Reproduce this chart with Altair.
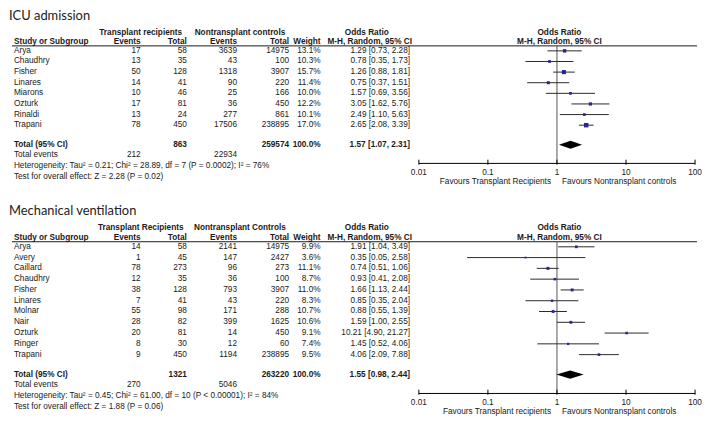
import altair as alt
import pandas as pd

# ---------------- data ----------------
icu_studies = ["Arya", "Chaudhry", "Fisher", "Linares", "Miarons", "Ozturk", "Rinaldi", "Trapani"]
icu_tr_events = [17, 13, 50, 14, 10, 17, 13, 78]
icu_tr_total = [58, 35, 128, 41, 46, 81, 24, 450]
icu_nt_events = [3639, 43, 1318, 90, 25, 36, 277, 17506]
icu_nt_total = [14975, 100, 3907, 220, 166, 450, 861, 238895]
icu_weight = [13.1, 10.3, 15.7, 11.4, 10.0, 12.2, 10.1, 17.0]
icu_or = [1.29, 0.78, 1.26, 0.75, 1.57, 3.05, 2.49, 2.65]
icu_lo = [0.73, 0.35, 0.88, 0.37, 0.69, 1.62, 1.10, 2.08]
icu_hi = [2.28, 1.73, 1.81, 1.51, 3.56, 5.76, 5.63, 3.39]
icu_totals = {"tr_total": 863, "nt_total": 259574, "weight": 100.0,
              "or": 1.57, "lo": 1.07, "hi": 2.31, "tr_events": 212, "nt_events": 22934}
icu_het = "Heterogeneity: Tau\u00b2 = 0.21; Chi\u00b2 = 28.89, df = 7 (P = 0.0002); I\u00b2 = 76%"
icu_test = "Test for overall effect: Z = 2.28 (P = 0.02)"

mv_studies = ["Arya", "Avery", "Caillard", "Chaudhry", "Fisher", "Linares", "Molnar", "Nair",
              "Ozturk", "Ringer", "Trapani"]
mv_tr_events = [14, 1, 78, 12, 38, 7, 55, 28, 20, 8, 9]
mv_tr_total = [58, 45, 273, 35, 128, 41, 98, 82, 81, 30, 450]
mv_nt_events = [2141, 147, 96, 36, 793, 43, 171, 399, 14, 12, 1194]
mv_nt_total = [14975, 2427, 273, 100, 3907, 220, 288, 1625, 450, 60, 238895]
mv_weight = [9.9, 3.6, 11.1, 8.7, 11.0, 8.3, 10.7, 10.6, 9.1, 7.4, 9.5]
mv_or = [1.91, 0.35, 0.74, 0.93, 1.66, 0.85, 0.88, 1.59, 10.21, 1.45, 4.06]
mv_lo = [1.04, 0.05, 0.51, 0.41, 1.13, 0.35, 0.55, 1.00, 4.90, 0.52, 2.09]
mv_hi = [3.49, 2.58, 1.06, 2.08, 2.44, 2.04, 1.39, 2.55, 21.27, 4.06, 7.88]
mv_totals = {"tr_total": 1321, "nt_total": 263220, "weight": 100.0,
             "or": 1.55, "lo": 0.98, "hi": 2.44, "tr_events": 270, "nt_events": 5046}
mv_het = "Heterogeneity: Tau\u00b2 = 0.45; Chi\u00b2 = 61.00, df = 10 (P < 0.00001); I\u00b2 = 84%"
mv_test = "Test for overall effect: Z = 1.88 (P = 0.06)"

tick_values = [0.01, 0.1, 1, 10, 100]
tick_labels = ["0.01", "0.1", "1", "10", "100"]

# ---------------- layout / style ----------------
FONT = "Arial, 'Liberation Sans', Helvetica, sans-serif"
FS = 8.3
TXT = "#1a1a1a"
W = 694


def X(xr):
    return (xr - 2) * 0.99


def make_panel(title, grp1, grp2, fav_left, fav_right, studies, tr_ev, tr_tot, nt_ev, nt_tot,
               weight, orv, lo, hi, tot, het, test, H, rmin, rmax):
    n = len(studies)
    r_tot = n - 1 + 1.85
    r_axis = n - 1 + 3.6
    ys = alt.Scale(domain=[rmin, rmax], range=[0, H], zero=False, nice=False)
    xs = alt.Scale(type="log", domain=[0.01, 100], range=[X(420), X(701)])

    def Yq(f):
        return alt.Y(f, scale=ys, axis=None)

    def Xq(f):
        return alt.X(f, scale=xs, axis=None)

    cols = {
        "study": (X(8), "left"),
        "tr_ev": (X(137), "right"),
        "tr_tot": (X(184), "right"),
        "nt_ev": (X(235), "right"),
        "nt_tot": (X(288), "right"),
        "w": (X(320), "right"),
        "or": (X(411), "right"),
        "h_grp1": (X(137), "center"),
        "h_grp2": (X(238), "center"),
        "h_or": (X(367), "center"),
        "h_mh": (X(370), "center"),
        "h_for": (X(563), "center"),
    }
    cells = []

    def add(col, r, t, bold=False):
        cells.append({"col": col, "r": r, "t": t, "b": bold})

    for i in range(n):
        add("study", i, studies[i])
        add("tr_ev", i, str(tr_ev[i]))
        add("tr_tot", i, str(tr_tot[i]))
        add("nt_ev", i, str(nt_ev[i]))
        add("nt_tot", i, str(nt_tot[i]))
        add("w", i, f"{weight[i]:.1f}%")
        add("or", i, f"{orv[i]:.2f} [{lo[i]:.2f}, {hi[i]:.2f}]")
    add("study", r_tot, "Total (95% CI)", True)
    add("tr_tot", r_tot, str(tot["tr_total"]), True)
    add("nt_tot", r_tot, str(tot["nt_total"]), True)
    add("w", r_tot, f"{tot['weight']:.1f}%", True)
    add("or", r_tot, f"{tot['or']:.2f} [{tot['lo']:.2f}, {tot['hi']:.2f}]", True)
    add("study", r_tot + 1, "Total events")
    add("tr_ev", r_tot + 1, str(tot["tr_events"]))
    add("nt_ev", r_tot + 1, str(tot["nt_events"]))
    add("study", r_tot + 2, het)
    add("study", r_tot + 3, test)
    # headers
    h1, h2 = -1.72, -0.8
    add("h_grp1", h1, grp1, True)
    add("h_grp2", h1, grp2, True)
    add("h_or", h1, "Odds Ratio", True)
    add("h_for", h1, "Odds Ratio", True)
    add("study", h2, "Study or Subgroup", True)
    add("tr_ev", h2, "Events", True)
    add("tr_tot", h2, "Total", True)
    add("nt_ev", h2, "Events", True)
    add("nt_tot", h2, "Total", True)
    add("w", h2, "Weight", True)
    add("h_mh", h2, "M-H, Random, 95% CI", True)
    add("h_for", h2, "M-H, Random, 95% CI", True)

    cdf = pd.DataFrame(cells)
    layers = []
    for (col, bold), g in cdf.groupby(["col", "b"]):
        px, align = cols[col]
        layers.append(
            alt.Chart(g[["r", "t"]]).mark_text(
                align=align, baseline="middle", font=FONT, fontSize=FS,
                fontWeight="bold" if bold else "normal", color=TXT
            ).encode(x=alt.value(px), y=Yq("r:Q"), text="t:N")
        )

    # title
    layers.append(
        alt.Chart(pd.DataFrame({"r": [-3.3], "t": [title]})).mark_text(
            align="left", baseline="middle", font="Lato", fontSize=13, color="#222222"
        ).encode(x=alt.value(1), y=Yq("r:Q"), text="t:N")
    )
    # header underline
    layers.append(
        alt.Chart(pd.DataFrame({"r": [-0.47]})).mark_rule(color=TXT, strokeWidth=1).encode(
            x=alt.value(X(6)), x2=alt.value(W), y=Yq("r:Q"))
    )
    # line of no effect
    layers.append(
        alt.Chart(pd.DataFrame({"x": [1], "y": [-0.47], "y2": [r_axis]})).mark_rule(
            color="#555555", strokeWidth=1).encode(x=Xq("x:Q"), y=Yq("y:Q"), y2="y2:Q")
    )
    rows = pd.DataFrame({"r": list(range(n)), "or": orv, "lo": lo, "hi": hi, "w": weight})
    layers.append(
        alt.Chart(rows).mark_rule(color="#2a2a2a", strokeWidth=1).encode(
            x=Xq("lo:Q"), x2="hi:Q", y=Yq("r:Q"))
    )
    layers.append(
        alt.Chart(rows).mark_square(color="#26269a", opacity=1).encode(
            x=Xq("or:Q"), y=Yq("r:Q"),
            size=alt.Size("w:Q", scale=alt.Scale(type="pow", exponent=2.5, domain=[0, 17],
                                                 range=[3, 20]), legend=None))
    )
    dia = pd.DataFrame({"x": [tot["lo"], tot["or"], tot["hi"]],
                        "y": [r_tot, r_tot - 0.38, r_tot],
                        "y2": [r_tot, r_tot + 0.38, r_tot]})
    layers.append(
        alt.Chart(dia).mark_area(color="black", orient="vertical").encode(
            x=Xq("x:Q"), y=Yq("y:Q"), y2="y2:Q")
    )
    # axis
    layers.append(
        alt.Chart(pd.DataFrame({"x": [tick_values[0]], "x2": [tick_values[-1]], "y": [r_axis]}))
        .mark_rule(color="black", strokeWidth=1).encode(x=Xq("x:Q"), x2="x2:Q", y=Yq("y:Q"))
    )
    ticks = pd.DataFrame({"v": tick_values, "lab": tick_labels,
                          "y": [r_axis - 0.35] * 5, "y2": [r_axis + 0.12] * 5,
                          "yl": [r_axis + 0.87] * 5})
    layers.append(
        alt.Chart(ticks).mark_rule(color="black", strokeWidth=1).encode(
            x=Xq("v:Q"), y=Yq("y:Q"), y2="y2:Q")
    )
    layers.append(
        alt.Chart(ticks).mark_text(baseline="middle", font=FONT, fontSize=FS, color=TXT).encode(
            x=Xq("v:Q"), y=Yq("yl:Q"), text="lab:N")
    )
    fav = pd.DataFrame({"x": [1], "y": [r_axis + 1.75], "l": [fav_left], "rt": [fav_right]})
    layers.append(
        alt.Chart(fav).mark_text(align="right", dx=-6, baseline="middle", font=FONT,
                                 fontSize=FS, color=TXT).encode(
            x=Xq("x:Q"), y=Yq("y:Q"), text="l:N")
    )
    layers.append(
        alt.Chart(fav).mark_text(align="left", dx=5, baseline="middle", font=FONT,
                                 fontSize=FS, color=TXT).encode(
            x=Xq("x:Q"), y=Yq("y:Q"), text="rt:N")
    )
    return alt.layer(*layers).properties(width=W, height=H)


top = make_panel("ICU admission", "Transplant recipients", "Nontransplant controls",
                 "Favours Transplant Recipients", "Favours Nontransplant controls",
                 icu_studies, icu_tr_events, icu_tr_total, icu_nt_events, icu_nt_total,
                 icu_weight, icu_or, icu_lo, icu_hi, icu_totals, icu_het, icu_test,
                 193, -3.90, 14.15)
bottom = make_panel("Mechanical ventilation", "Transplant Recipients", "Nontransplant Controls",
                    "Favours Transplant recipients", "Favours Nontransplant controls",
                    mv_studies, mv_tr_events, mv_tr_total, mv_nt_events, mv_nt_total,
                    mv_weight, mv_or, mv_lo, mv_hi, mv_totals, mv_het, mv_test,
                    212, -4.24, 15.28)

chart = alt.vconcat(top, bottom, spacing=0).resolve_scale(
    x="independent", y="independent", size="independent"
).properties(padding=0).configure_view(stroke=None)

chart.save("out.html", embed_options={"renderer": "svg", "actions": False})
